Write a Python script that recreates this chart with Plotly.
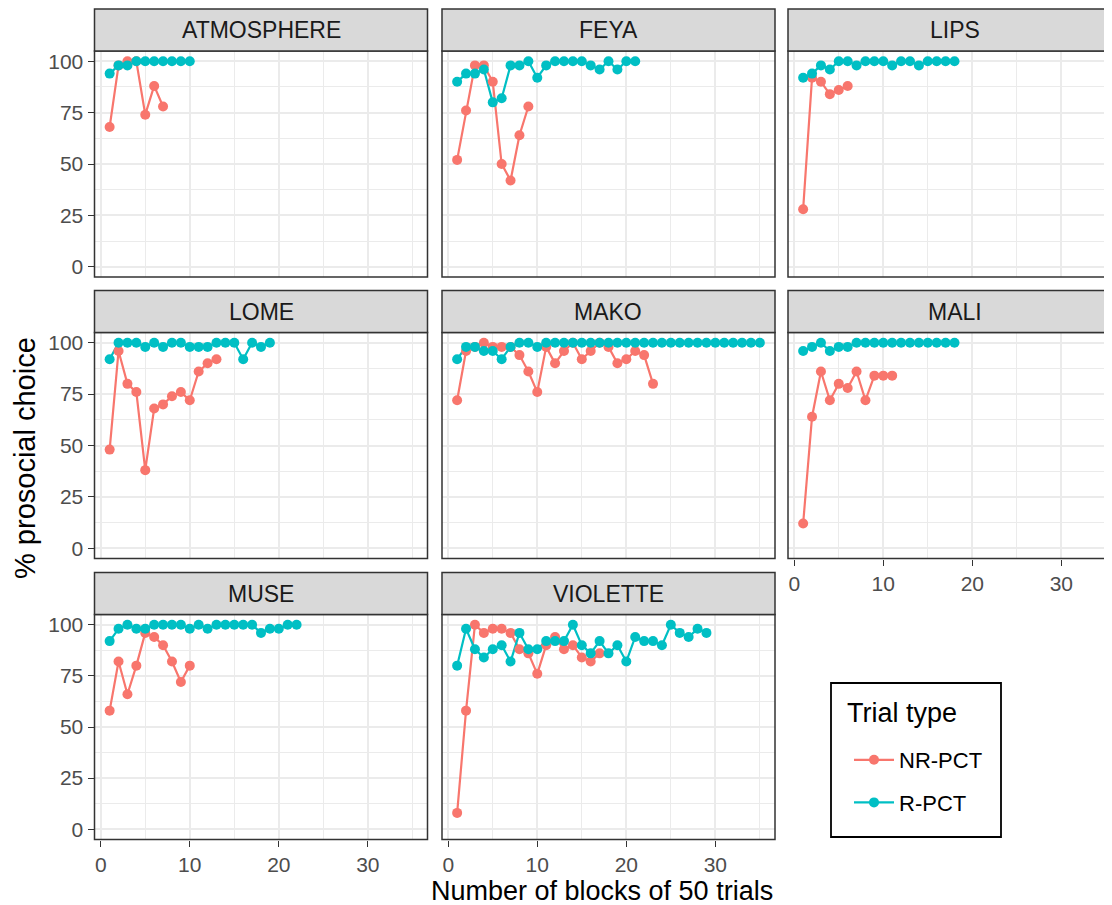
import plotly.graph_objects as go

# ---------------- data ----------------
animals = ["ATMOSPHERE", "FEYA", "LIPS", "LOME", "MAKO", "MALI", "MUSE", "VIOLETTE"]
trial_types = ["NR-PCT", "R-PCT"]
colors = {"NR-PCT": "#F8766D", "R-PCT": "#00BFC4"}

atmosphere_nr = [68, 98, 100, 100, 74, 88, 78]
atmosphere_r = [94, 98, 98, 100, 100, 100, 100, 100, 100, 100]
feya_nr = [52, 76, 98, 98, 90, 50, 42, 64, 78]
feya_r = [90, 94, 94, 96, 80, 82, 98, 98, 100, 92, 98, 100, 100, 100, 100, 98, 96, 100, 96, 100, 100]
lips_nr = [28, 92, 90, 84, 86, 88]
lips_r = [92, 94, 98, 96, 100, 100, 98, 100, 100, 100, 98, 100, 100, 98, 100, 100, 100, 100]
lome_nr = [48, 96, 80, 76, 38, 68, 70, 74, 76, 72, 86, 90, 92]
lome_r = [92, 100, 100, 100, 98, 100, 98, 100, 100, 98, 98, 98, 100, 100, 100, 92, 100, 98, 100]
mako_nr = [72, 96, 98, 100, 98, 98, 98, 94, 86, 76, 98, 90, 96, 100, 92, 96, 100, 98, 90, 92, 96, 94, 80]
mako_r = [92, 98, 98, 96, 96, 92, 98, 100, 100, 98, 100, 100, 100, 100, 100, 100, 100, 100,
          100, 100, 100, 100, 100, 100, 100, 100, 100, 100, 100, 100, 100, 100, 100, 100, 100]
mali_nr = [12, 64, 86, 72, 80, 78, 86, 72, 84, 84, 84]
mali_r = [96, 98, 100, 96, 98, 98, 100, 100, 100, 100, 100, 100, 100, 100, 100, 100, 100, 100]
muse_nr = [58, 82, 66, 80, 96, 94, 90, 82, 72, 80]
muse_r = [92, 98, 100, 98, 98, 100, 100, 100, 100, 98, 100, 98, 100, 100, 100, 100, 100, 96, 98, 98, 100, 100]
violette_nr = [8, 58, 100, 96, 98, 98, 96, 88, 86, 76, 90, 94, 88, 90, 84, 82, 86]
violette_r = [80, 98, 88, 84, 88, 90, 82, 96, 88, 88, 92, 92, 92, 100, 90, 86, 92, 86, 90, 82,
              94, 92, 92, 90, 100, 96, 94, 98, 96]

series = {
    "ATMOSPHERE": (atmosphere_nr, atmosphere_r),
    "FEYA": (feya_nr, feya_r),
    "LIPS": (lips_nr, lips_r),
    "LOME": (lome_nr, lome_r),
    "MAKO": (mako_nr, mako_r),
    "MALI": (mali_nr, mali_r),
    "MUSE": (muse_nr, muse_r),
    "VIOLETTE": (violette_nr, violette_r),
}

x_ticks = [0, 10, 20, 30]
y_ticks = [0, 25, 50, 75, 100]

# ---------------- layout geometry (reference pixels) ----------------
OFF = 8                      # page body margin
VIEW_W, VIEW_H = 1112, 905
W, H = VIEW_W - OFF, VIEW_H - OFF
FONT = "Liberation Sans, Arial, sans-serif"
col_x = [(94.5, 427.5), (442.0, 775.0), (788.0, 1121.0)]
row_y = [(51.0, 277.0), (332.5, 558.5), (614.5, 839.5)]
STRIP_H = 42
XR = [-0.7, 36.7]
YR = [-5, 105]


def px(x):
    return (x - OFF) / W


def py(y):
    return 1 - (y - OFF) / H


fig = go.Figure()

shapes = []
annotations = []
layout_axes = {}

for i, name in enumerate(animals):
    r, c = divmod(i, 3)
    n = i + 1
    xa = "x" if n == 1 else f"x{n}"
    ya = "y" if n == 1 else f"y{n}"
    x0, x1 = col_x[c]
    y0, y1 = row_y[r]
    x1_vis = min(x1, VIEW_W)
    xr = [XR[0], XR[0] + (XR[1] - XR[0]) * (x1_vis - x0) / (x1 - x0)]

    show_x = (r == 2) or (r == 1 and c == 2)
    show_y = c == 0
    grid_major = "#EBEBEB"
    layout_axes[f"xaxis{'' if n == 1 else n}"] = dict(
        domain=[px(x0), px(x1_vis)], anchor=ya, range=xr, autorange=False,
        tickmode="array", tickvals=x_ticks, showticklabels=show_x,
        ticks="outside" if show_x else "", ticklen=6, tickwidth=1.4, tickcolor="#333333",
        tickfont=dict(family=FONT, size=21, color="#4D4D4D"),
        showgrid=True, gridcolor=grid_major, gridwidth=1.7, zeroline=False, showline=False,
        minor=dict(tickmode="array", tickvals=[5, 15, 25, 35], showgrid=True,
                   gridcolor=grid_major, gridwidth=0.9, ticks=""),
        automargin=False, fixedrange=True,
    )
    layout_axes[f"yaxis{'' if n == 1 else n}"] = dict(
        domain=[py(y1), py(y0)], anchor=xa, range=YR, autorange=False,
        tickmode="array", tickvals=y_ticks, showticklabels=show_y,
        ticks="outside" if show_y else "", ticklen=6, tickwidth=1.4, tickcolor="#333333",
        tickfont=dict(family=FONT, size=21, color="#4D4D4D"),
        showgrid=True, gridcolor=grid_major, gridwidth=1.7, zeroline=False, showline=False,
        minor=dict(tickmode="array", tickvals=[12.5, 37.5, 62.5, 87.5], showgrid=True,
                   gridcolor=grid_major, gridwidth=0.9, ticks=""),
        automargin=False, fixedrange=True,
    )

    # panel border
    shapes.append(dict(type="rect", xref="paper", yref="paper",
                       x0=px(x0), x1=px(x1), y0=py(y1), y1=py(y0),
                       line=dict(color="#333333", width=1.5), fillcolor="rgba(0,0,0,0)",
                       layer="above"))
    # strip
    shapes.append(dict(type="rect", xref="paper", yref="paper",
                       x0=px(x0), x1=px(x1), y0=py(y0), y1=py(y0 - STRIP_H),
                       line=dict(color="#333333", width=1.5), fillcolor="#D9D9D9",
                       layer="above"))
    annotations.append(dict(text=name, xref="paper", yref="paper",
                            x=px((x0 + x1) / 2), y=py(y0 - STRIP_H / 2), showarrow=False,
                            xanchor="center", yanchor="middle",
                            font=dict(family=FONT, size=23, color="#1A1A1A")))

    nr, rr = series[name]
    data = {"NR-PCT": nr, "R-PCT": rr}
    # lines first (both groups), then points (both groups), like ggplot layers
    for tt in trial_types:
        vals = data[tt]
        blocks = list(range(1, len(vals) + 1))
        fig.add_trace(go.Scatter(x=blocks, y=vals, mode="lines", xaxis=xa, yaxis=ya,
                                 line=dict(color=colors[tt], width=2.2),
                                 showlegend=False, hoverinfo="skip"))
    for tt in trial_types:
        vals = data[tt]
        blocks = list(range(1, len(vals) + 1))
        fig.add_trace(go.Scatter(x=blocks, y=vals, mode="markers", xaxis=xa, yaxis=ya,
                                 marker=dict(color=colors[tt], size=10),
                                 showlegend=False, name=tt))

# legend entries
for k, tt in enumerate(trial_types):
    fig.add_trace(go.Scatter(x=[None], y=[None], mode="lines+markers", name=tt,
                             line=dict(color=colors[tt], width=2.2),
                             marker=dict(color=colors[tt], size=10),
                             legendgroup=tt, showlegend=True))

# legend box
shapes.append(dict(type="rect", xref="paper", yref="paper",
                   x0=px(831), x1=px(1001), y0=py(837), y1=py(683),
                   line=dict(color="#000000", width=1.8), fillcolor="rgba(0,0,0,0)"))
annotations.append(dict(text="Trial type", xref="paper", yref="paper",
                        x=px(845), y=py(713), showarrow=False, xanchor="left", yanchor="middle",
                        font=dict(family=FONT, size=27, color="#000000")))

# axis titles
annotations.append(dict(text="Number of blocks of 50 trials", xref="paper", yref="paper",
                        x=px(602), y=py(891), showarrow=False, xanchor="center", yanchor="middle",
                        font=dict(family=FONT, size=27, color="#000000")))
annotations.append(dict(text="% prosocial choice", xref="paper", yref="paper",
                        x=px(25), y=py(458), showarrow=False, xanchor="center", yanchor="middle",
                        textangle=-90, font=dict(family=FONT, size=29, color="#000000")))

fig.update_layout(
    width=W, height=H,
    margin=dict(l=0, r=0, t=0, b=0, autoexpand=False),
    paper_bgcolor="white", plot_bgcolor="white",
    shapes=shapes, annotations=annotations,
    showlegend=True,
    legend=dict(x=px(849), y=py(739), xanchor="left", yanchor="top",
                bgcolor="rgba(0,0,0,0)", borderwidth=0,
                font=dict(family=FONT, size=22, color="#000000"),
                tracegroupgap=11, itemwidth=40),
    **layout_axes,
)

fig.write_html("out.html")
